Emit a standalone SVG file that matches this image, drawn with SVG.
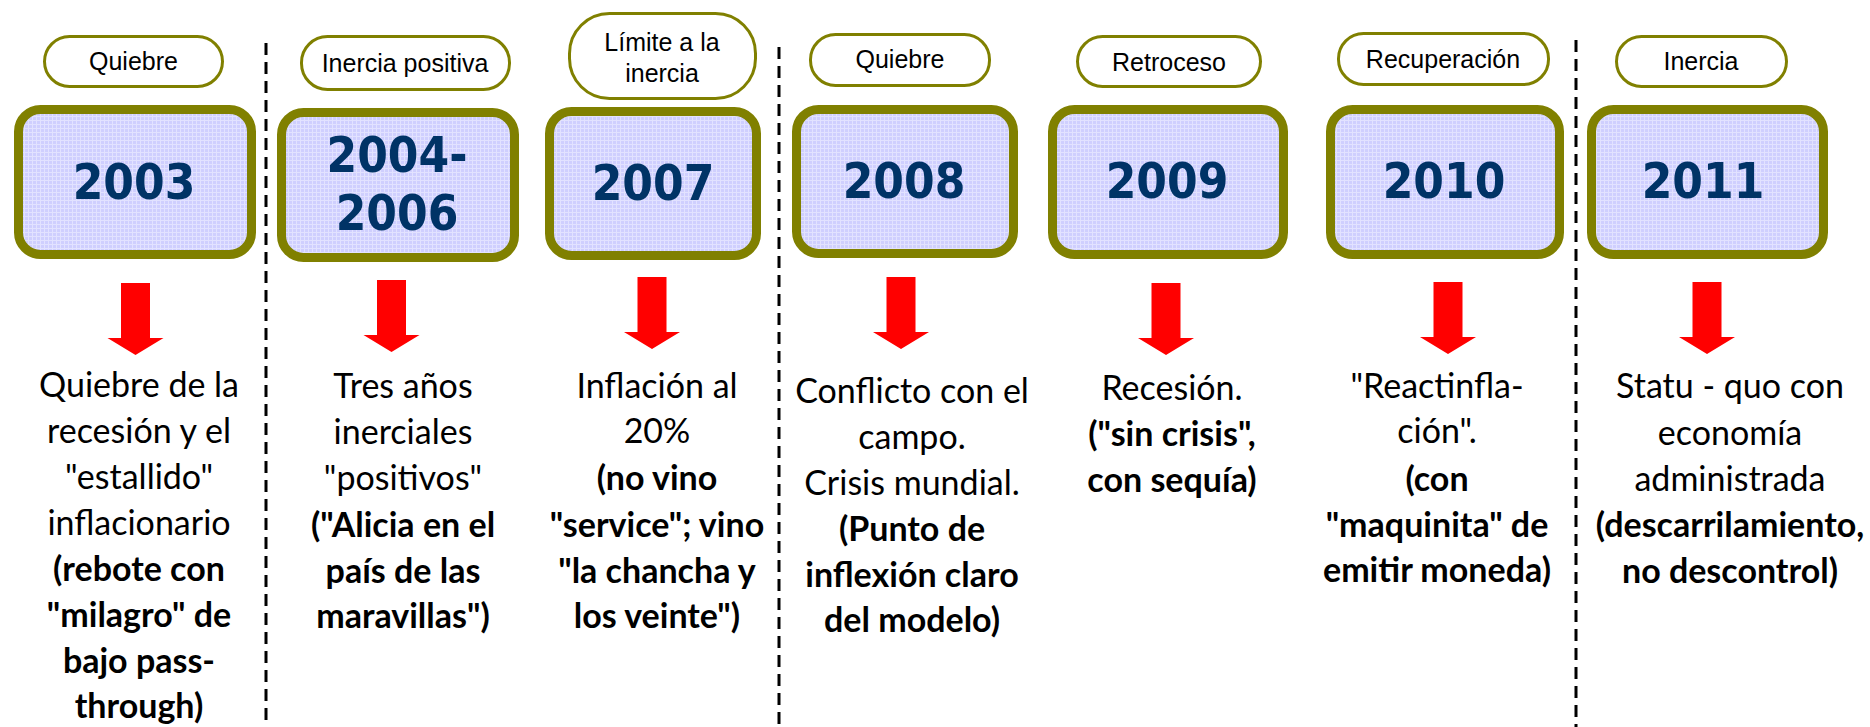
<svg xmlns="http://www.w3.org/2000/svg" width="1870" height="727" viewBox="0 0 1870 727">
<style>
.box{fill:url(#dots);stroke:#808000;stroke-width:9}
.pill{fill:#ffffff;stroke:#808000;stroke-width:3}
.pt{font-family:"Liberation Sans",Arial,sans-serif;font-size:25px;fill:#000;text-anchor:middle}
.yr{font-family:"DejaVu Sans Condensed","DejaVu Sans",sans-serif;font-stretch:condensed;font-weight:bold;font-size:49px;fill:#003366;text-anchor:middle}
.d{font-family:Lato,"Open Sans",sans-serif;font-size:34px;fill:#000;text-anchor:middle}
.b{font-weight:bold}
.sep{stroke:#000;stroke-width:3;stroke-dasharray:12 7;fill:none}
.arr{fill:#ff0000}
</style>
<defs>
<pattern id="dots" width="4" height="4" patternUnits="userSpaceOnUse">
<rect width="4" height="4" fill="#cfcffe"/>
<rect x="0" y="0" width="4" height="1" fill="#e2e2ff"/>
<rect x="0" y="0" width="1" height="4" fill="#e2e2ff"/>
</pattern>
<path id="arrow" d="M-14.5,0 H14.5 V55 H28 L0,72 L-28,55 H-14.5 Z"/>
</defs>
<rect width="1870" height="727" fill="#ffffff"/>

<g id="separators">
<line class="sep" x1="266" y1="43" x2="266" y2="727"/>
<line class="sep" x1="779" y1="47" x2="779" y2="727"/>
<line class="sep" x1="1576" y1="40" x2="1576" y2="727"/>
</g>

<g id="connectors" class="arr">
<use href="#arrow" transform="translate(135.5,283)"/>
<use href="#arrow" transform="translate(391.5,280)"/>
<use href="#arrow" transform="translate(652,277)"/>
<use href="#arrow" transform="translate(901,277)"/>
<use href="#arrow" transform="translate(1166,283)"/>
<use href="#arrow" transform="translate(1448,282)"/>
<use href="#arrow" transform="translate(1707,282)"/>
</g>

<g id="n2003">
<rect class="pill" x="44.5" y="36.5" width="178" height="50" rx="25"/>
<text class="pt" x="133.5" y="70">Quiebre</text>
<rect class="box" x="18.5" y="109.5" width="233" height="145" rx="22"/>
<text class="yr" x="134" y="199">2003</text>
<text class="d" x="139" y="397">Quiebre de la</text>
<text class="d" x="139" y="443">recesión y el</text>
<text class="d" x="139" y="489">"estallido"</text>
<text class="d" x="139" y="535">inflacionario</text>
<text class="d b" x="139" y="581">(rebote con</text>
<text class="d b" x="139" y="627">"milagro" de</text>
<text class="d b" x="139" y="673">bajo pass-</text>
<text class="d b" x="139" y="718">through)</text>
</g>

<g id="n2004">
<rect class="pill" x="301.5" y="36.5" width="208" height="53" rx="26"/>
<text class="pt" x="405" y="72">Inercia positiva</text>
<rect class="box" x="281.5" y="112.5" width="233" height="145" rx="22"/>
<text class="yr" x="397" y="172">2004-</text>
<text class="yr" x="397" y="230">2006</text>
<text class="d" x="403" y="398">Tres años</text>
<text class="d" x="403" y="444">inerciales</text>
<text class="d" x="403" y="490">"positivos"</text>
<text class="d b" x="403" y="537">("Alicia en el</text>
<text class="d b" x="403" y="583">país de las</text>
<text class="d b" x="403" y="628">maravillas")</text>
</g>

<g id="n2007">
<rect class="pill" x="569.5" y="13.5" width="186" height="85" rx="40"/>
<text class="pt" x="662" y="51">Límite a la</text>
<text class="pt" x="662" y="82">inercia</text>
<rect class="box" x="549.5" y="111.5" width="207" height="144" rx="22"/>
<text class="yr" x="653" y="200">2007</text>
<text class="d" x="657" y="398">Inflación al</text>
<text class="d" x="657" y="443">20%</text>
<text class="d b" x="657" y="490">(no vino</text>
<text class="d b" x="657" y="537">"service"; vino</text>
<text class="d b" x="657" y="583">"la chancha y</text>
<text class="d b" x="657" y="628">los veinte")</text>
</g>

<g id="n2008">
<rect class="pill" x="810.5" y="34.5" width="179" height="51" rx="25"/>
<text class="pt" x="900" y="68">Quiebre</text>
<rect class="box" x="796.5" y="109.5" width="217" height="144" rx="22"/>
<text class="yr" x="904" y="198">2008</text>
<text class="d" x="912" y="403">Conflicto con el</text>
<text class="d" x="912" y="449">campo.</text>
<text class="d" x="912" y="495">Crisis mundial.</text>
<text class="d b" x="912" y="541">(Punto de</text>
<text class="d b" x="912" y="587">inflexión claro</text>
<text class="d b" x="912" y="632">del modelo)</text>
</g>

<g id="n2009">
<rect class="pill" x="1077.5" y="36.5" width="183" height="50" rx="25"/>
<text class="pt" x="1169" y="71">Retroceso</text>
<rect class="box" x="1052.5" y="109.5" width="231" height="145" rx="22"/>
<text class="yr" x="1167" y="198">2009</text>
<text class="d" x="1172" y="400">Recesión.</text>
<text class="d b" x="1172" y="446">("sin crisis",</text>
<text class="d b" x="1172" y="492">con sequía)</text>
</g>

<g id="n2010">
<rect class="pill" x="1338.5" y="33.5" width="210" height="51" rx="25"/>
<text class="pt" x="1443" y="68">Recuperación</text>
<rect class="box" x="1330.5" y="109.5" width="229" height="145" rx="22"/>
<text class="yr" x="1444" y="198">2010</text>
<text class="d" x="1437" y="398">"Reactinfla-</text>
<text class="d" x="1437" y="443">ción".</text>
<text class="d b" x="1437" y="491">(con</text>
<text class="d b" x="1437" y="537">"maquinita" de</text>
<text class="d b" x="1437" y="582">emitir moneda)</text>
</g>

<g id="n2011">
<rect class="pill" x="1616.5" y="36.5" width="170" height="50" rx="25"/>
<text class="pt" x="1701" y="70">Inercia</text>
<rect class="box" x="1591.5" y="109.5" width="232" height="145" rx="22"/>
<text class="yr" x="1703" y="198">2011</text>
<text class="d" x="1730" y="398">Statu - quo con</text>
<text class="d" x="1730" y="445">economía</text>
<text class="d" x="1730" y="491">administrada</text>
<text class="d b" x="1730" y="537">(descarrilamiento,</text>
<text class="d b" x="1730" y="583">no descontrol)</text>
</g>
</svg>
